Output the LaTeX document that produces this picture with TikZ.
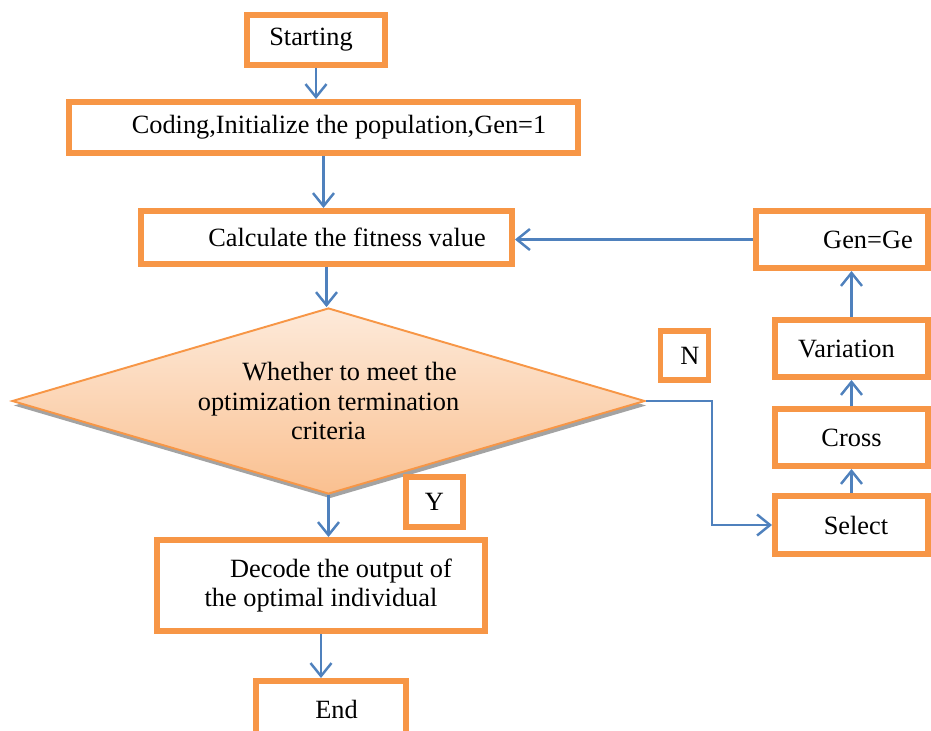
\documentclass[tikz,border=0pt]{standalone}
\usepackage{fontspec}
\setmainfont{Liberation Serif}
\usetikzlibrary{arrows.meta,calc,positioning,shapes.geometric,shadows}
\definecolor{boxorange}{HTML}{F79646}
\definecolor{lineblue}{HTML}{4F81BD}
\definecolor{diatop}{HTML}{FDEADA}
\definecolor{diabot}{HTML}{FAC090}
\tikzset{
  stepbox/.style={draw=boxorange,line width=3.4pt,rectangle,fill=white,align=center,inner sep=0pt},
  decision/.style={diamond,draw=boxorange,line width=1.1pt,aspect=3.4,inner sep=0pt,align=center,
    top color=diatop,bottom color=diabot,
    drop shadow={shadow xshift=0.03cm,shadow yshift=-0.09cm,fill=gray!80,opacity=0.9}},
  flow/.style={draw=lineblue,line width=1.4pt,-{Straight Barb[length=2.6mm,width=4.2mm,line width=1.4pt]}}
}
\begin{document}
\begin{tikzpicture}[x=0.02cm,y=-0.02cm,font=\fontsize{15}{17}\selectfont]
  \useasboundingbox (0,0) rectangle (931,731);
  \clip (0,0) rectangle (931,731);

  % main column
  \node[stepbox,minimum width=2.76cm,minimum height=1.0cm] (start) at (316,40) {Starting\hspace{0.2cm}};
  \node[stepbox,minimum width=10.18cm,minimum height=1.02cm] (code) at (323.5,127.5) {\hspace{0.62cm}Coding,Initialize the population,Gen=1};
  \node[stepbox,minimum width=7.42cm,minimum height=1.06cm] (calc) at (326.5,237.5) {\hspace{0.82cm}Calculate the fitness value};
  \node[decision,minimum width=12.66cm,minimum height=3.72cm] (dia) at (328.5,401) {\hspace{0.84cm}Whether to meet the\\optimization termination\\criteria};
  \node[stepbox,minimum width=6.56cm,minimum height=1.82cm] (dec) at (321,585.5) {\hspace{0.8cm}Decode the output of\\the optimal individual};
  \node[stepbox,minimum width=3.0cm,minimum height=1.12cm] (fin) at (331,709) {\hspace{0.22cm}End};

  % answer labels
  \node[stepbox,minimum width=1.14cm,minimum height=1.0cm] (yes) at (434.5,502) {Y};
  \node[stepbox,minimum width=0.96cm,minimum height=0.98cm] (no) at (684.5,355.5) {\hspace{0.22cm}N};

  % loop column
  \node[stepbox,minimum width=3.44cm,minimum height=1.14cm] (gen) at (842,239.5) {\hspace{1.04cm}Gen=Ge};
  \node[stepbox,minimum width=3.06cm,minimum height=1.14cm] (var) at (851.5,348.5) {Variation\hspace{0.2cm}};
  \node[stepbox,minimum width=3.06cm,minimum height=1.14cm] (cross) at (851.5,437.5) {Cross};
  \node[stepbox,minimum width=3.06cm,minimum height=1.16cm] (sel) at (851.5,525) {\hspace{0.18cm}Select};

  \draw[flow] (start.south) -- (start.south |- code.north);
  \draw[flow] (code.south) -- (code.south |- calc.north);
  \draw[flow] (calc.south) -- (calc.south |- dia.north);
  \draw[flow] (dia.south) -- (dia.south |- dec.north);
  \draw[flow] (dec.south) -- (dec.south |- fin.north);

  \draw[flow] (dia.east) -- ++(66,0) |- (sel.west);
  \draw[flow] (sel.north) -- (cross.south);
  \draw[flow] (cross.north) -- (var.south);
  \draw[flow] (var.north) -- (gen.south -| var.north);
  \draw[flow] (gen.west) -- (gen.west -| calc.east);
\end{tikzpicture}
\end{document}
